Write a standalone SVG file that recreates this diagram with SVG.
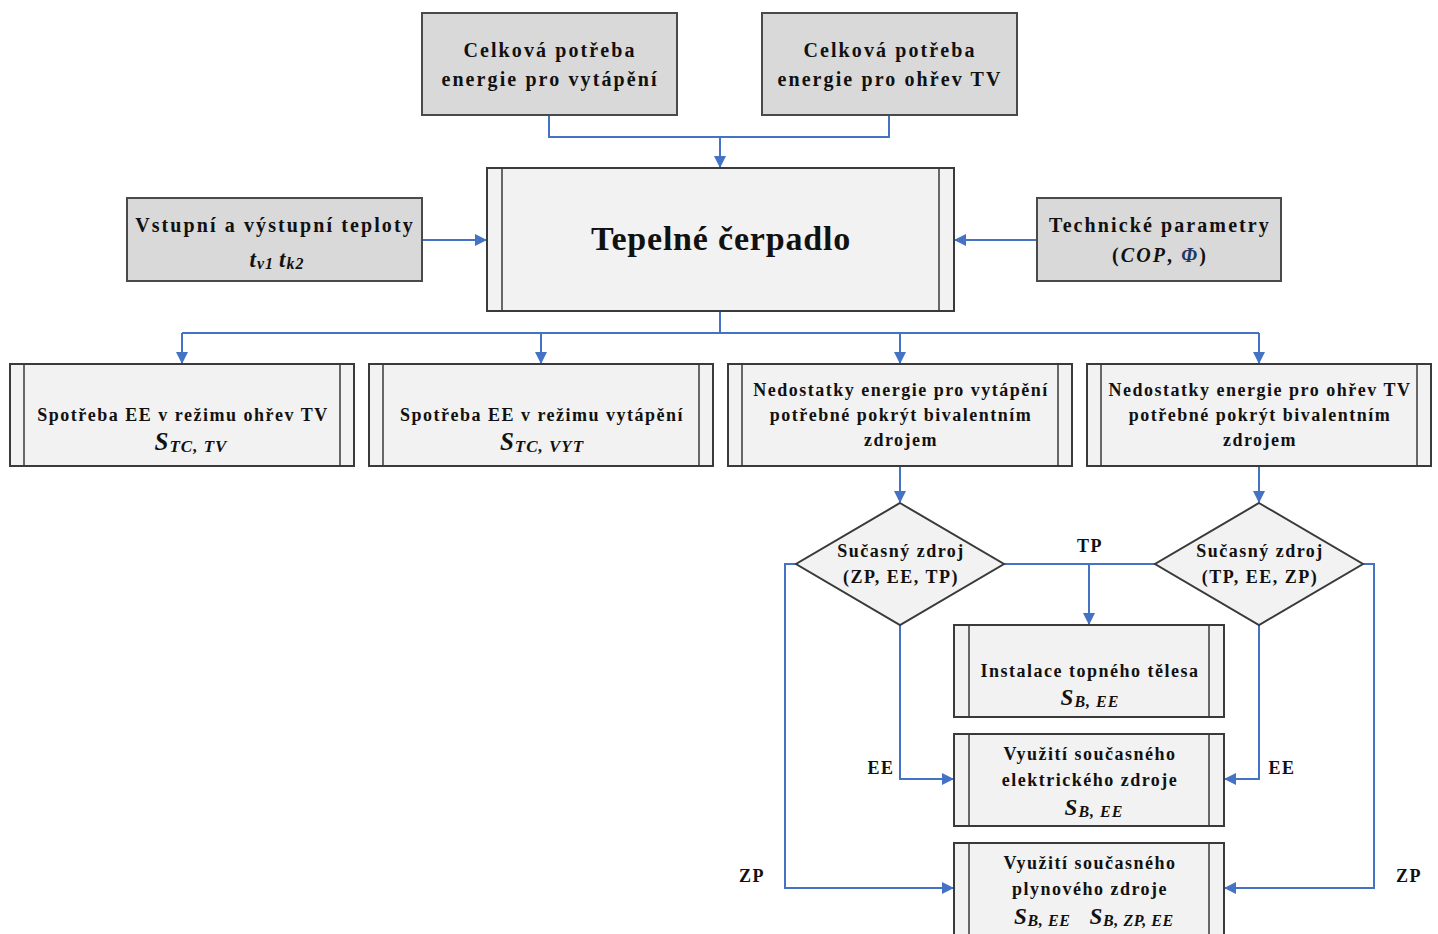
<svg xmlns="http://www.w3.org/2000/svg" width="1438" height="934" viewBox="0 0 1438 934">
<style>
text{font-family:"Liberation Serif","Times New Roman",serif;font-weight:bold;fill:#111;text-anchor:middle}
.in{fill:#d9d9d9;stroke:#4a4a4a;stroke-width:2}
.pr{fill:#f2f2f2;stroke:#3a3a3a;stroke-width:2}
.ln{fill:none;stroke:#3a3a3a;stroke-width:1.5}
.c{fill:none;stroke:#4472c4;stroke-width:2}
.t20{font-size:20px;letter-spacing:2.1px}
.t18{font-size:18px;letter-spacing:1.5px}
.it{font-style:italic}
.f{letter-spacing:1px}
</style>
<defs>
<marker id="ah" markerWidth="12" markerHeight="12" refX="11" refY="6" orient="auto" markerUnits="userSpaceOnUse">
<path d="M0,0 L12,6 L0,12 Z" fill="#4472c4"/>
</marker>
</defs>
<rect width="1438" height="934" fill="#fff"/>

<g id="connectors">
<path class="c" d="M549,115 V137 H889 V115"/>
<path class="c" d="M720,137 V167" marker-end="url(#ah)"/>
<path class="c" d="M422,240 H486" marker-end="url(#ah)"/>
<path class="c" d="M1037,240 H955" marker-end="url(#ah)"/>
<path class="c" d="M720,311 V333 M182,333 H1259"/>
<path class="c" d="M182,333 V363" marker-end="url(#ah)"/>
<path class="c" d="M541,333 V363" marker-end="url(#ah)"/>
<path class="c" d="M900,333 V363" marker-end="url(#ah)"/>
<path class="c" d="M1259,333 V363" marker-end="url(#ah)"/>
<path class="c" d="M900,466 V502" marker-end="url(#ah)"/>
<path class="c" d="M1259,466 V502" marker-end="url(#ah)"/>
<path class="c" d="M1004,564 H1155"/>
<path class="c" d="M1089,564 V624" marker-end="url(#ah)"/>
<path class="c" d="M796,564 H785 V888 H953" marker-end="url(#ah)"/>
<path class="c" d="M900,624 V779 H953" marker-end="url(#ah)"/>
<path class="c" d="M1259,624 V779 H1225" marker-end="url(#ah)"/>
<path class="c" d="M1363,564 H1374 V888 H1225" marker-end="url(#ah)"/>
<text class="t18" x="1090" y="552">TP</text>
<text class="t18" x="881" y="774">EE</text>
<text class="t18" x="1282" y="774">EE</text>
<text class="t18" x="752" y="882">ZP</text>
<text class="t18" x="1409" y="882">ZP</text>
</g>

<g id="n-vytapeni">
<rect class="in" x="422" y="13" width="255" height="102"/>
<text class="t20" x="550" y="57">Celková potřeba</text>
<text class="t20" x="550" y="86">energie pro vytápění</text>
</g>
<g id="n-ohrev">
<rect class="in" x="762" y="13" width="255" height="102"/>
<text class="t20" x="890" y="57">Celková potřeba</text>
<text class="t20" x="890" y="86">energie pro ohřev TV</text>
</g>
<g id="n-tc">
<rect class="pr" x="487" y="168" width="467" height="143"/>
<path class="ln" d="M502,168 V311 M939,168 V311"/>
<text x="721" y="250" font-size="34" letter-spacing="0.8">Tepelné čerpadlo</text>
</g>
<g id="n-teploty">
<rect class="in" x="127" y="198" width="295" height="83"/>
<text class="t20" x="275" y="232">Vstupní a výstupní teploty</text>
<text class="it f" x="277" y="267" font-size="23">t<tspan font-size="16" dy="2">v1 </tspan><tspan dy="-2">t</tspan><tspan font-size="16" dy="2">k2</tspan></text>
</g>
<g id="n-param">
<rect class="in" x="1037" y="198" width="244" height="83"/>
<text class="t20" x="1160" y="232">Technické parametry</text>
<text class="t20" x="1160" y="262">(<tspan class="it">COP</tspan>, <tspan class="it" style="fill:#1f3864">Φ</tspan>)</text>
</g>

<g id="n-ee-tv">
<rect class="pr" x="10" y="364" width="344" height="102"/>
<path class="ln" d="M24,364 V466 M340,364 V466"/>
<text class="t18" x="183" y="421">Spotřeba EE v režimu ohřev TV</text>
<text class="it f" x="191" y="450" font-size="25">S<tspan font-size="17" dy="2">TC, TV</tspan></text>
</g>
<g id="n-ee-vyt">
<rect class="pr" x="369" y="364" width="344" height="102"/>
<path class="ln" d="M383,364 V466 M699,364 V466"/>
<text class="t18" x="542" y="421">Spotřeba EE v režimu vytápění</text>
<text class="it f" x="542" y="450" font-size="25">S<tspan font-size="17" dy="2">TC, VYT</tspan></text>
</g>
<g id="n-ned-vyt">
<rect class="pr" x="728" y="364" width="344" height="102"/>
<path class="ln" d="M742,364 V466 M1058,364 V466"/>
<text class="t18" x="901" y="396">Nedostatky energie pro vytápění</text>
<text class="t18" x="901" y="421">potřebné pokrýt bivalentním</text>
<text class="t18" x="901" y="446">zdrojem</text>
</g>
<g id="n-ned-tv">
<rect class="pr" x="1087" y="364" width="344" height="102"/>
<path class="ln" d="M1101,364 V466 M1417,364 V466"/>
<text class="t18" x="1260" y="396">Nedostatky energie pro ohřev TV</text>
<text class="t18" x="1260" y="421">potřebné pokrýt bivalentním</text>
<text class="t18" x="1260" y="446">zdrojem</text>
</g>

<g id="n-d1">
<path class="pr" d="M900,503 L1004,564 L900,625 L796,564 Z"/>
<text class="t18" x="901" y="557">Sučasný zdroj</text>
<text class="t18" x="901" y="583">(ZP, EE, TP)</text>
</g>
<g id="n-d2">
<path class="pr" d="M1259,503 L1363,564 L1259,625 L1155,564 Z"/>
<text class="t18" x="1260" y="557">Sučasný zdroj</text>
<text class="t18" x="1260" y="583">(TP, EE, ZP)</text>
</g>

<g id="n-topne">
<rect class="pr" x="954" y="625" width="270" height="92"/>
<path class="ln" d="M969,625 V717 M1209,625 V717"/>
<text class="t18" x="1090" y="677">Instalace topného tělesa</text>
<text class="it f" x="1090" y="705" font-size="23">S<tspan font-size="16" dy="2">B, EE</tspan></text>
</g>
<g id="n-elektr">
<rect class="pr" x="954" y="734" width="270" height="92"/>
<path class="ln" d="M969,734 V826 M1209,734 V826"/>
<text class="t18" x="1090" y="760">Využití současného</text>
<text class="t18" x="1090" y="786">elektrického zdroje</text>
<text class="it f" x="1094" y="815" font-size="23">S<tspan font-size="16" dy="2">B, EE</tspan></text>
</g>
<g id="n-plyn">
<rect class="pr" x="954" y="843" width="270" height="100"/>
<path class="ln" d="M969,843 V943 M1209,843 V943"/>
<text class="t18" x="1090" y="869">Využití současného</text>
<text class="t18" x="1090" y="895">plynového zdroje</text>
<text class="it" x="1094" y="924" font-size="23" letter-spacing="0.6" xml:space="preserve">S<tspan font-size="16" dy="2">B, EE</tspan><tspan dy="-2">   S</tspan><tspan font-size="16" dy="2">B, ZP, EE</tspan></text>
</g>
</svg>
